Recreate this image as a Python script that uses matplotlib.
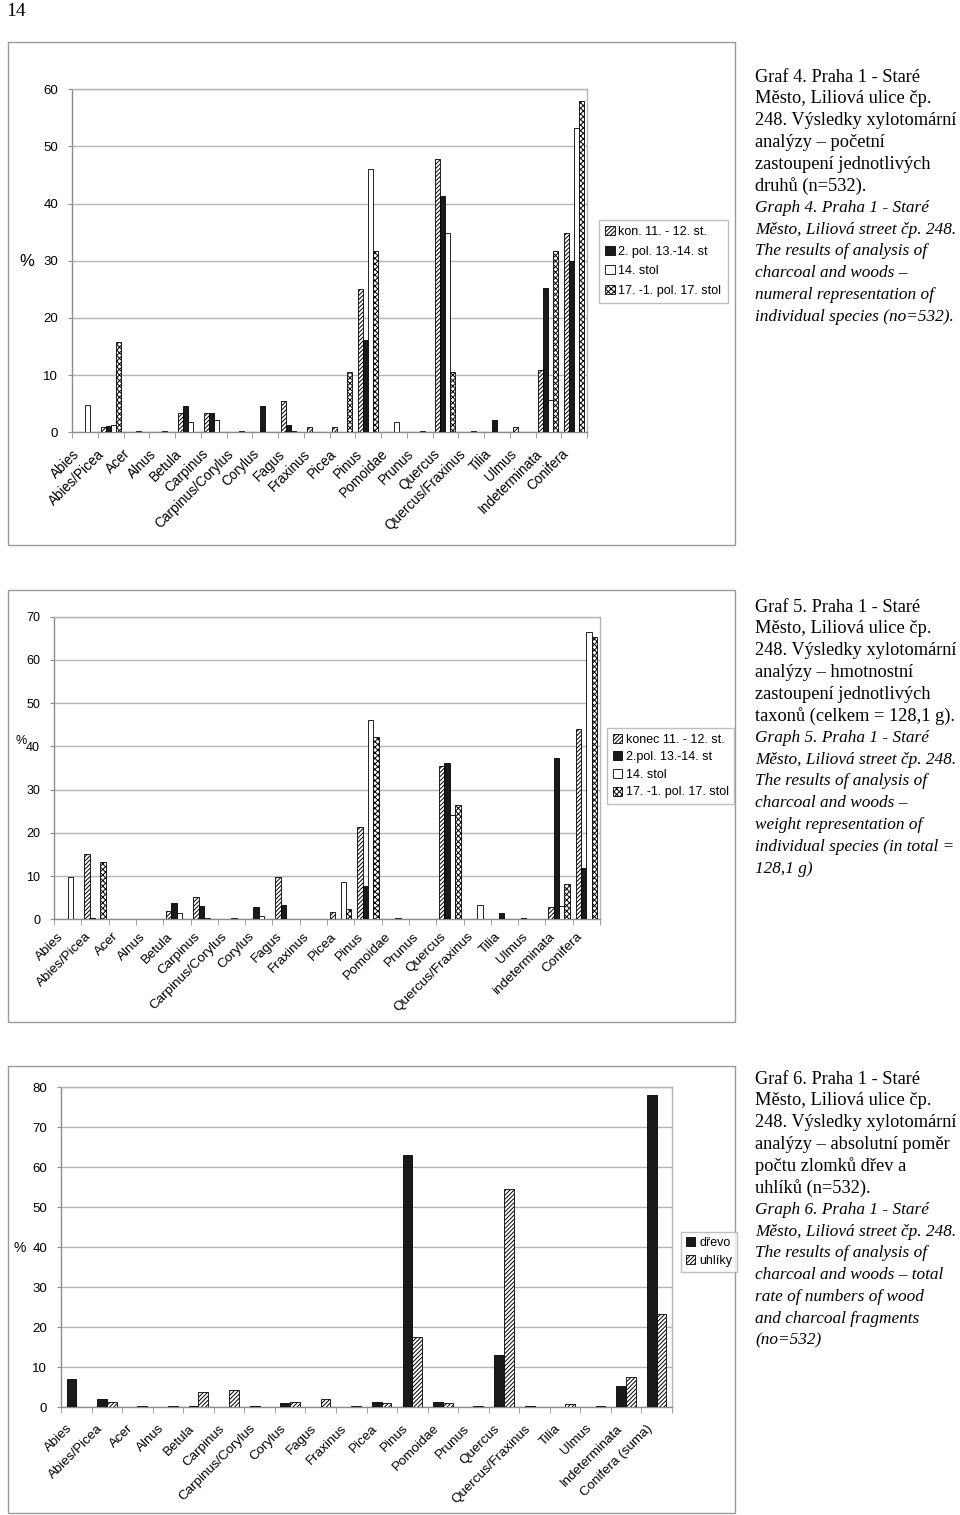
import numpy as np
import matplotlib
matplotlib.use('Agg')
import matplotlib.pyplot as plt
import matplotlib.transforms as mtransforms
from matplotlib.patches import Rectangle, Patch

# ---------------- data ----------------
cats4 = ['Abies', 'Abies/Picea', 'Acer', 'Alnus', 'Betula', 'Carpinus', 'Carpinus/Corylus',
         'Corylus', 'Fagus', 'Fraxinus', 'Picea', 'Pinus', 'Pomoidae', 'Prunus', 'Quercus',
         'Quercus/Fraxinus', 'Tilia', 'Ulmus', 'Indeterminata', 'Conifera']
g4_kon = [0, 1.0, 0, 0, 3.3, 3.3, 0, 0, 5.4, 1.0, 1.0, 25.0, 0, 0, 47.8, 0, 0, 1.0, 10.9, 34.8]
g4_pol = [0, 1.1, 0, 0, 4.6, 3.4, 0, 4.6, 1.2, 0, 0, 16.2, 0, 0, 41.4, 0, 2.2, 0, 25.2, 30.0]
g4_14 = [4.8, 1.2, 0.3, 0.3, 1.8, 2.1, 0.3, 0, 0.3, 0, 0, 46.0, 1.8, 0.3, 34.8, 0.3, 0, 0, 5.7, 53.2]
g4_17 = [0, 15.8, 0, 0, 0, 0, 0, 0, 0, 0, 10.6, 31.7, 0, 0, 10.6, 0, 0, 0, 31.7, 58.0]
leg4 = ['kon. 11. - 12. st.', '2. pol. 13.-14. st', '14. stol', '17. -1. pol. 17. stol']

cats5 = ['Abies', 'Abies/Picea', 'Acer', 'Alnus', 'Betula', 'Carpinus', 'Carpinus/Corylus',
         'Corylus', 'Fagus', 'Fraxinus', 'Picea', 'Pinus', 'Pomoidae', 'Prunus', 'Quercus',
         'Quercus/Fraxinus', 'Tilia', 'Ulmus', 'indeterminata', 'Conifera']
g5_kon = [0, 15.1, 0, 0, 2.0, 5.2, 0, 0, 9.9, 0, 1.6, 21.4, 0, 0, 35.5, 0, 0, 0.3, 2.9, 44.0]
g5_pol = [0, 0.2, 0, 0, 3.7, 3.1, 0, 2.9, 3.3, 0, 0, 7.7, 0, 0, 36.2, 0, 1.5, 0, 37.4, 11.8]
g5_14 = [9.7, 0, 0, 0, 1.4, 0.2, 0.2, 0.8, 0, 0, 8.6, 46.1, 0.4, 0, 24.1, 3.3, 0, 0, 3.1, 66.5]
g5_17 = [0, 13.3, 0, 0, 0, 0, 0, 0, 0, 0, 2.3, 42.1, 0, 0, 26.5, 0, 0, 0, 8.1, 65.4]
leg5 = ['konec 11. - 12. st.', '2.pol. 13.-14. st', '14. stol', '17. -1. pol. 17. stol']

cats6 = ['Abies', 'Abies/Picea', 'Acer', 'Alnus', 'Betula', 'Carpinus', 'Carpinus/Corylus',
         'Corylus', 'Fagus', 'Fraxinus', 'Picea', 'Pinus', 'Pomoidae', 'Prunus', 'Quercus',
         'Quercus/Fraxinus', 'Tilia', 'Ulmus', 'Indeterminata', 'Conifera (suma)']
g6_drevo = [7.1, 2.2, 0, 0, 0.4, 0, 0.4, 1.1, 0, 0, 1.4, 63.2, 1.4, 0, 13.1, 0.4, 0, 0, 5.4, 78.0]
g6_uhliky = [0, 1.4, 0.4, 0.4, 3.9, 4.25, 0, 1.4, 2.2, 0.4, 1.0, 17.5, 1.1, 0.4, 54.5, 0, 0.75, 0.4, 7.7, 23.4]
leg6 = ['dřevo', 'uhlíky']

cap4 = ['Graf 4. Praha 1 - Staré', 'Město, Liliová ulice čp.', '248. Výsledky xylotomární',
        'analýzy – početní', 'zastoupení jednotlivých', 'druhů (n=532).',
        'Graph 4. Praha 1 - Staré', 'Město, Liliová street čp. 248.', 'The results of analysis of',
        'charcoal and woods –', 'numeral representation of', 'individual species (no=532).']
cap5 = ['Graf 5. Praha 1 - Staré', 'Město, Liliová ulice čp.', '248. Výsledky xylotomární',
        'analýzy – hmotnostní', 'zastoupení jednotlivých', 'taxonů (celkem = 128,1 g).',
        'Graph 5. Praha 1 - Staré', 'Město, Liliová street čp. 248.', 'The results of analysis of',
        'charcoal and woods –', 'weight representation of', 'individual species (in total =',
        '128,1 g)']
cap6 = ['Graf 6. Praha 1 - Staré', 'Město, Liliová ulice čp.', '248. Výsledky xylotomární',
        'analýzy – absolutní poměr', 'počtu zlomků dřev a', 'uhlíků (n=532).',
        'Graph 6. Praha 1 - Staré', 'Město, Liliová street čp. 248.', 'The results of analysis of',
        'charcoal and woods – total', 'rate of numbers of wood', 'and charcoal fragments',
        '(no=532)']

# ---------------- figure ----------------
W, H = 960, 1515
plt.rcParams['font.family'] = ['Liberation Sans', 'DejaVu Sans']
plt.rcParams['hatch.linewidth'] = 0.7
fig = plt.figure(figsize=(9.6, 15.15), dpi=100)

GRID = '#b4b4b4'
AXC = '#8c8c8c'


def fx(px):
    return px / W


def fy(py):
    return 1 - py / H


def frame(l, t, r, b):
    fig.patches.append(Rectangle((fx(l), fy(b)), fx(r) - fx(l), (b - t) / H,
                                 transform=fig.transFigure, fill=False,
                                 ec='#9a9a9a', lw=1.0))


STY = {
    'diag': dict(fc='white', hatch='////////'),
    'black': dict(fc='#1a1a1a', hatch=None),
    'white': dict(fc='white', hatch=None),
    'cross': dict(fc='white', hatch='xxxxxx'),
}


def draw(box, cats, series, styles, width, ymax, tickfs, labfs, pad_lab, shift_px):
    l, t, r, b = box
    ax = fig.add_axes([fx(l), fy(b), fx(r) - fx(l), (b - t) / H])
    n = len(cats)
    x = np.arange(n)
    k = len(series)
    for i, (vals, st) in enumerate(zip(series, styles)):
        vals = np.asarray(vals, float)
        m = vals > 0
        off = (i - (k - 1) / 2) * width
        s = STY[st]
        ax.bar(x[m] + off, vals[m], width, facecolor=s['fc'], edgecolor='black',
               hatch=s['hatch'], lw=0.6, zorder=3)
    ax.set_xlim(-0.5, n - 0.5)
    ax.set_ylim(0, ymax)
    ax.set_yticks(np.arange(0, ymax + 1, 10))
    ax.yaxis.grid(True, color=GRID, lw=1.0, zorder=0)
    ax.set_axisbelow(True)
    for sp in ax.spines.values():
        sp.set_color(AXC)
        sp.set_linewidth(1.0)
    ax.spines['top'].set_color(GRID)
    ax.spines['right'].set_color(GRID)
    ax.set_xticks(x)
    ax.set_xticklabels(cats, rotation=45, ha='right', va='center',
                       rotation_mode='anchor', fontsize=labfs)
    ax.set_xticks(np.arange(-0.5, n), minor=True)
    ax.tick_params(axis='x', which='major', length=0, pad=pad_lab)
    ax.tick_params(axis='x', which='minor', length=4, color=AXC, direction='out')
    ax.tick_params(axis='y', length=3, color=AXC, labelsize=tickfs, pad=7)
    off = mtransforms.ScaledTranslation(-shift_px / 100, 0, fig.dpi_scale_trans)
    for lab in ax.get_xticklabels():
        lab.set_transform(lab.get_transform() + off)
    return ax


# page number
fig.text(fx(6), fy(12), '14', family='Liberation Serif', fontsize=14, va='center', ha='left')

# ---------- Graph 4 ----------
frame(8, 42, 735, 545)
ax1 = draw((72, 89.3, 587, 432.3), cats4, [g4_kon, g4_pol, g4_14, g4_17],
           ['diag', 'black', 'white', 'cross'], 0.195, 60, 9.5, 9.8, 14, 8)
fig.text(fx(27), fy(261), '%', fontsize=12, ha='center', va='center')
h4 = [Patch(facecolor=STY[s]['fc'], edgecolor='black', hatch=STY[s]['hatch'], lw=0.6)
      for s in ['diag', 'black', 'white', 'cross']]
fig.legend(h4, leg4, loc='upper left', bbox_to_anchor=(fx(599), fy(220)),
           frameon=True, fancybox=False, edgecolor='#b0b0b0', fontsize=9,
           handlelength=0.75, handleheight=0.75, handletextpad=0.3,
           labelspacing=0.6, borderpad=0.5, borderaxespad=0)

# ---------- Graph 5 ----------
frame(8, 590, 735, 1022)
ax2 = draw((54, 616.7, 600, 919.3), cats5, [g5_kon, g5_pol, g5_14, g5_17],
           ['diag', 'black', 'white', 'cross'], 0.197, 70, 9, 9.7, 11, 6)
fig.text(fx(21), fy(741), '%', fontsize=9, ha='center', va='center')
fig.legend(h4, leg5, loc='upper left', bbox_to_anchor=(fx(607), fy(728)),
           frameon=True, fancybox=False, edgecolor='#b0b0b0', fontsize=9,
           handlelength=0.75, handleheight=0.75, handletextpad=0.3,
           labelspacing=0.45, borderpad=0.45, borderaxespad=0)

# ---------- Graph 6 ----------
frame(8, 1066, 735, 1513)
ax3 = draw((61, 1087.3, 672, 1407.3), cats6, [g6_drevo, g6_uhliky],
           ['black', 'diag'], 0.317, 80, 9.5, 9.6, 14, 6)
fig.text(fx(20), fy(1248), '%', fontsize=10, ha='center', va='center')
h6 = [Patch(facecolor=STY[s]['fc'], edgecolor='black', hatch=STY[s]['hatch'], lw=0.6)
      for s in ['black', 'diag']]
fig.legend(h6, leg6, loc='upper left', bbox_to_anchor=(fx(681), fy(1232)),
           frameon=True, fancybox=False, edgecolor='#b0b0b0', fontsize=9,
           handlelength=0.75, handleheight=0.75, handletextpad=0.3,
           labelspacing=0.45, borderpad=0.4, borderaxespad=0)

# ---------- captions ----------
def caption(lines, y0, n_cz=6):
    for i, s in enumerate(lines):
        it = i >= n_cz
        fig.text(fx(755), fy(y0 + i * 21.8), s, family='Liberation Serif',
                 style='italic' if it else 'normal', fontsize=12.4 if it else 13.2,
                 ha='left', va='center')


caption(cap4, 77)
caption(cap5, 607)
caption(cap6, 1079)

fig.savefig('out.png', dpi=100)
